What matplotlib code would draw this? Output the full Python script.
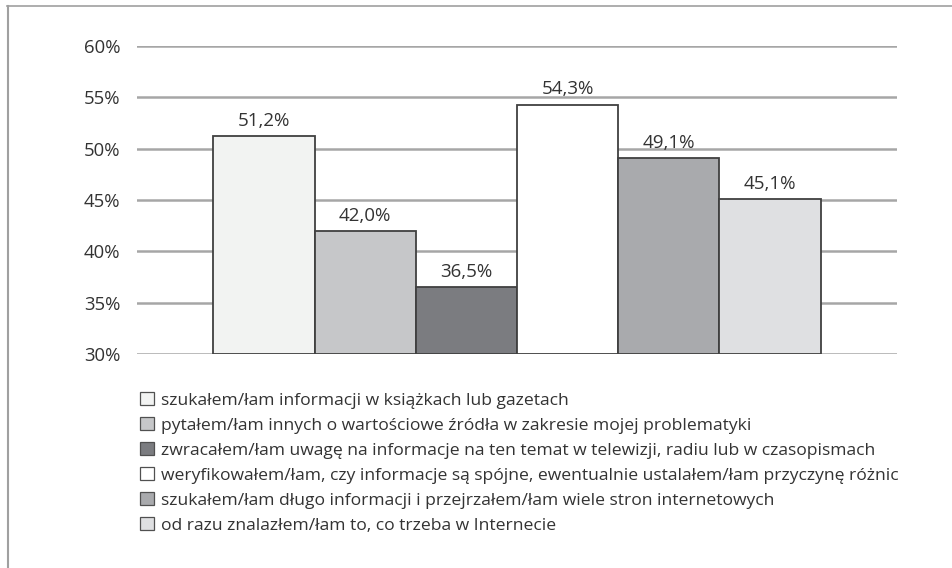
import matplotlib
matplotlib.use("Agg")
import matplotlib.pyplot as plt
from matplotlib.lines import Line2D

categories = [
    "szukałem/łam informacji w książkach lub gazetach",
    "pytałem/łam innych o wartościowe źródła w zakresie mojej problematyki",
    "zwracałem/łam uwagę na informacje na ten temat w telewizji, radiu lub w czasopismach",
    "weryfikowałem/łam, czy informacje są spójne, ewentualnie ustalałem/łam przyczynę różnic",
    "szukałem/łam długo informacji i przejrzałem/łam wiele stron internetowych",
    "od razu znalazłem/łam to, co trzeba w Internecie",
]
values = [51.2, 42.0, 36.5, 54.3, 49.1, 45.1]
colors = ["#f2f3f2", "#c6c7c9", "#7b7c80", "#ffffff", "#a9aaad", "#dfe0e2"]
yticks = [30, 35, 40, 45, 50, 55, 60]

plt.rcParams['font.family'] = ['Open Sans', 'DejaVu Sans']

fig = plt.figure(figsize=(9.53, 5.68), dpi=100)
ax = fig.add_axes([137/953, 1-354/568, 760/953, 308/568])

w = 0.1332
n = len(values)
handles = []
for i, (v, c, lab) in enumerate(zip(values, colors, categories)):
    x = (i - (n-1)/2) * w
    b = ax.bar(x, v - 30, bottom=30, width=w, color=c, edgecolor="#404040",
               linewidth=1.3, zorder=3, label=lab)
    handles.append(b)
    ax.text(x, v + 0.6, f"{v:.1f}%".replace(".", ","), ha="center", va="bottom",
            fontsize=13.5, color="#333333", zorder=4)

ax.set_xlim(-0.5, 0.5)
ax.set_ylim(30, 60)
ax.set_yticks(yticks)
ax.set_yticklabels([f"{t}%" for t in yticks], fontsize=13.3, color="#333333")
ax.tick_params(axis="y", length=0, pad=12)
ax.set_xticks([])
for s in ax.spines.values():
    s.set_visible(False)
ax.yaxis.grid(True, color="#a6a6a6", linewidth=1.8, zorder=0)
ax.set_axisbelow(True)

leg = ax.legend(handles=handles, loc="upper left",
                bbox_to_anchor=(140/953, 1-392/568), bbox_transform=fig.transFigure,
                frameon=False, fontsize=12.6, handlelength=0.8, handleheight=0.8,
                handletextpad=0.4, labelspacing=0.47, borderpad=0, borderaxespad=0)
for t in leg.get_texts():
    t.set_color("#333333")
for p in leg.get_patches():
    p.set_edgecolor("#505050")
    p.set_linewidth(0.9)

# outer frame (top and left)
fig.add_artist(Line2D([7/953, 1], [1-6/568, 1-6/568], transform=fig.transFigure,
                      color="#a0a0a0", linewidth=1.2))
fig.add_artist(Line2D([8/953, 8/953], [0, 1-6/568], transform=fig.transFigure,
                      color="#a0a0a0", linewidth=1.5))

fig.savefig("out.png", dpi=100)
